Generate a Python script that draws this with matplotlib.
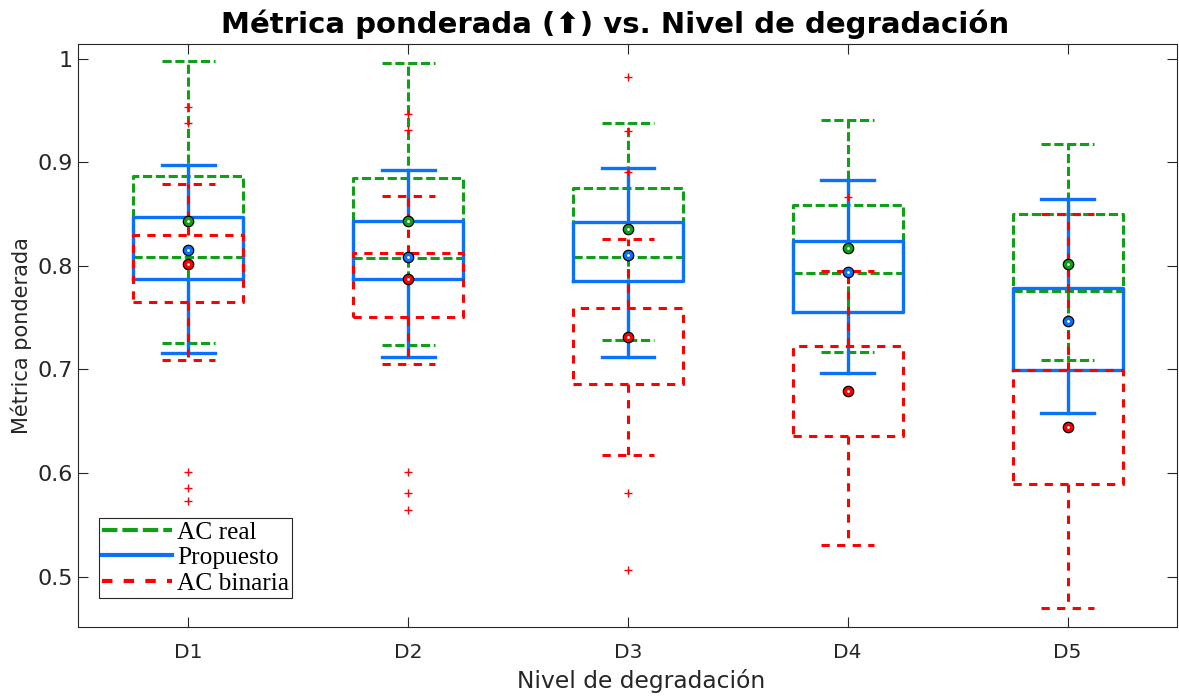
import matplotlib
matplotlib.use('Agg')
import matplotlib.pyplot as plt
from matplotlib.lines import Line2D

# groups
levels = ['D1', 'D2', 'D3', 'D4', 'D5']

# AC real (green)
real_lo = [0.726, 0.724, 0.728, 0.717, 0.709]
real_q1 = [0.809, 0.808, 0.809, 0.793, 0.776]
real_q3 = [0.887, 0.885, 0.875, 0.859, 0.850]
real_hi = [0.998, 0.996, 0.938, 0.941, 0.918]
real_pt = [0.843, 0.843, 0.836, 0.817, 0.802]

# Propuesto (blue)
prop_lo = [0.716, 0.712, 0.712, 0.697, 0.658]
prop_q1 = [0.787, 0.787, 0.785, 0.755, 0.699]
prop_q3 = [0.847, 0.843, 0.842, 0.824, 0.779]
prop_hi = [0.897, 0.893, 0.894, 0.883, 0.865]
prop_pt = [0.815, 0.809, 0.810, 0.794, 0.747]

# AC binaria (red)
bin_lo = [0.709, 0.705, 0.617, 0.531, 0.470]
bin_q1 = [0.765, 0.751, 0.686, 0.636, 0.589]
bin_q3 = [0.830, 0.812, 0.759, 0.723, 0.699]
bin_hi = [0.879, 0.867, 0.826, 0.795, 0.850]
bin_pt = [0.802, 0.787, 0.731, 0.679, 0.644]
bin_out = [[0.953, 0.938, 0.601, 0.586, 0.573],
           [0.947, 0.931, 0.601, 0.581, 0.564],
           [0.982, 0.930, 0.891, 0.581, 0.506],
           [0.866],
           []]

GREEN = '#0fa018'
BLUE = '#0a72fa'
RED = '#ff0000'
AXC = '#262626'


def make_stats(lo, q1, q3, hi, pt, out=None):
    st = []
    for i in range(len(lo)):
        st.append(dict(whislo=lo[i], q1=q1[i], med=pt[i], q3=q3[i], whishi=hi[i],
                       fliers=out[i] if out else [], label=levels[i]))
    return st


fig = plt.figure(figsize=(11.79, 6.96), dpi=100)
ax = fig.add_axes([0.0665, 0.0996, 0.9322, 0.8368])

pos = list(range(1, len(levels) + 1))
series = [
    (make_stats(real_lo, real_q1, real_q3, real_hi, real_pt), GREEN, (0, (3.0, 1.2)), 2.2, real_pt),
    (make_stats(prop_lo, prop_q1, prop_q3, prop_hi, prop_pt), BLUE, '-', 2.4, prop_pt),
    (make_stats(bin_lo, bin_q1, bin_q3, bin_hi, bin_pt, bin_out), RED, (0, (2.7, 2.4)), 2.2, bin_pt),
]

for k, (st, col, ls, lw, pts) in enumerate(series):
    lp = dict(color=col, linestyle=ls, linewidth=lw)
    ax.bxp(st, positions=pos, widths=0.5, capwidths=0.24,
           boxprops=lp, whiskerprops=lp, capprops=lp,
           medianprops=dict(visible=False),
           flierprops=dict(marker='+', markeredgecolor=RED, markersize=6, linestyle='none',
                           markeredgewidth=1.0),
           showfliers=True, manage_ticks=False, zorder=2 + k)

for k, (st, col, ls, lw, pts) in enumerate(series):
    ax.plot(pos, pts, 'o', color=col, markeredgecolor='black', markersize=7.5,
            markeredgewidth=0.9, linestyle='none', zorder=10)
    ax.plot(pos, pts, '.', color='white', markersize=2, linestyle='none', zorder=11)

ax.set_xlim(0.5, 5.5)
ax.set_ylim(0.4517, 1.0139)
ax.set_xticks(pos)
ax.set_xticklabels(levels)
ax.set_yticks([0.5, 0.6, 0.7, 0.8, 0.9, 1.0])
ax.set_yticklabels(['0.5', '0.6', '0.7', '0.8', '0.9', '1'])
ax.tick_params(direction='in', length=7, width=0.8, top=True, right=True, colors=AXC)
ax.tick_params(axis='x', labelsize=14.5, pad=12)
ax.tick_params(axis='y', labelsize=16, pad=4)
for s in ax.spines.values():
    s.set_color(AXC)
    s.set_linewidth(0.8)

ax.set_xlabel('Nivel de degradación', fontsize=16.8, color=AXC, labelpad=4)
ax.xaxis.set_label_coords(0.512, -0.072)
ax.set_ylabel('Métrica ponderada', fontsize=15, color=AXC, labelpad=4)
ax.set_title('Métrica ponderada (⬆) vs. Nivel de degradación', fontsize=21,
             fontweight='bold', pad=8, x=0.488)

handles = [
    Line2D([], [], color=GREEN, linestyle=(0, (3.7, 1.2)), linewidth=3),
    Line2D([], [], color=BLUE, linestyle='-', linewidth=3),
    Line2D([], [], color=RED, linestyle=(0, (2.5, 2.7)), linewidth=3),
]
leg = ax.legend(handles, ['AC real', 'Propuesto', 'AC binaria'], loc='lower left',
                bbox_to_anchor=(0.0187, 0.0488), borderaxespad=0, fancybox=False,
                framealpha=1, edgecolor=AXC, handlelength=2.75, handletextpad=0.2,
                labelspacing=0.12, borderpad=0.12,
                prop=dict(family='Liberation Serif', size=18.3))
leg.get_frame().set_linewidth(0.8)

fig.savefig('out.png', dpi=100)
